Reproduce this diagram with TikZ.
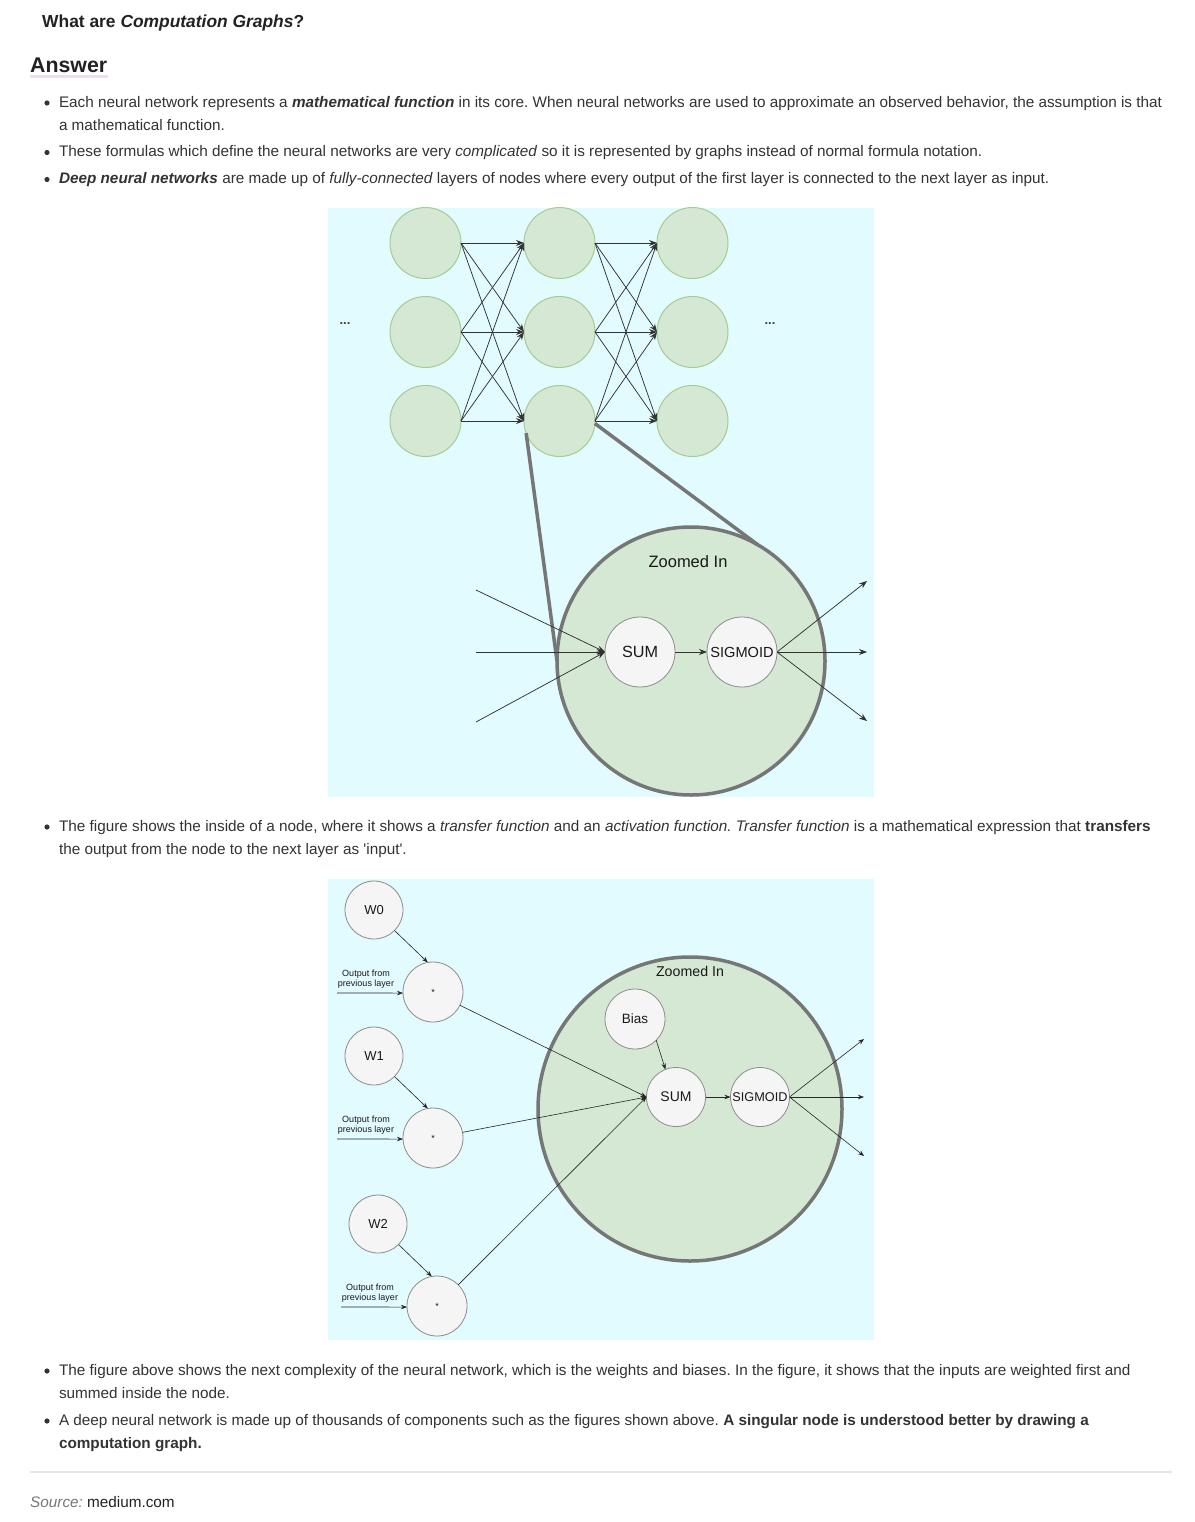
\documentclass[tikz,border=0pt]{standalone}
\usepackage{fontspec}
\setmainfont{Liberation Sans}
\usetikzlibrary{arrows.meta}
\definecolor{bgc}{HTML}{E1FBFE}
\definecolor{gfill}{HTML}{D5E8D4}
\definecolor{gdraw}{HTML}{A6CC94}
\definecolor{wfill}{HTML}{F5F5F5}
\definecolor{wdraw}{HTML}{8C8C8C}
\definecolor{zdraw}{HTML}{767676}
\definecolor{txt}{HTML}{333333}
\definecolor{head}{HTML}{222222}
\definecolor{ulc}{HTML}{EDDDF0}
\definecolor{rulec}{HTML}{E6E6E6}
\definecolor{srcc}{HTML}{777777}
\frenchspacing
\begin{document}
\frenchspacing
\begin{tikzpicture}[x=1pt,y=-1pt,
  body/.style={anchor=base west, inner sep=0, outer sep=0, text=txt, font=\fontsize{15.3}{18}\selectfont},
  bul/.style={fill=txt},
  gnode/.style={circle, fill=gfill, draw=gdraw, line width=1pt, minimum size=71pt, inner sep=0, outer sep=0},
  wnode/.style={circle, fill=wfill, draw=wdraw, line width=0.8pt, inner sep=0, outer sep=0, text=black!90},
  znode/.style={circle, fill=gfill, draw=zdraw, line width=3.5pt, inner sep=0, outer sep=0},
  arr/.style={-{Stealth[length=8pt,width=6pt]}, line width=0.75pt, draw=black!80},
  sarr/.style={-{Stealth[length=6pt,width=4.5pt]}, line width=0.6pt, draw=black!85},
  thick gray/.style={line width=3.5pt, draw=zdraw},
  small/.style={font=\fontsize{9}{10.5}\selectfont, align=center, inner sep=0, text=black!90}
]
% page
\path[fill=white] (0,0) rectangle (1194,1522);

% heading
\node[anchor=base west, inner sep=0, text=head, font=\fontsize{17.4}{20}\selectfont\bfseries] (title) at (42,28) {What are \textit{Computation Graphs}?};
\fill[ulc] (30,75) rectangle (108,78.5);
\node[anchor=base west, inner sep=0, text=head, font=\fontsize{21.3}{25}\selectfont\bfseries] (answer) at (30,73) {Answer};

% bullets top
\fill[bul] (47,103) circle (2.6);
\node[body] (l1) at (59,107.5) {Each neural network represents a \textbf{\textit{mathematical function}} in its core. When neural networks are used to approximate an observed behavior, the assumption is that};
\node[body] (l2) at (59,130.5) {a mathematical function.};
\fill[bul] (47,152.5) circle (2.6);
\node[body] (l3) at (59,157) {These formulas which define the neural networks are very \textit{complicated} so it is represented by graphs instead of normal formula notation.};
\fill[bul] (47,179.5) circle (2.6);
\node[body] (l4) at (59,184) {\textbf{\textit{Deep neural networks}} are made up of \textit{fully-connected} layers of nodes where every output of the first layer is connected to the next layer as input.};

% ---------------- diagram 1 ----------------
\fill[bgc] (328,208) rectangle (874,797);
\foreach \c/\x in {1/425.5,2/559.5,3/692.5}
  \foreach \r/\y in {1/243,2/332,3/421}
    \node[gnode] (n\c\r) at (\x,\y) {};
\foreach \a in {1,2,3}
  \foreach \b in {1,2,3} {
    \draw[arr] (n1\a.east) -- (n2\b.west);
    \draw[arr] (n2\a.east) -- (n3\b.west);
  }
\node[font=\fontsize{13}{14}\selectfont\bfseries, text=black!75] (dl) at (345,324) {...};
\node[font=\fontsize{13}{14}\selectfont\bfseries, text=black!75] (dr) at (770,324) {...};

\node[znode, minimum size=268pt] (big1) at (691,661) {};
\draw[thick gray] (n23.200) -- (big1.180);
\draw[thick gray] (n23.-4) -- (big1.60);
\node[font=\fontsize{16.5}{19}\selectfont, text=black!90] (zl1) at (688,562) {Zoomed In};
\node[wnode, minimum size=70pt, font=\fontsize{16.2}{19}\selectfont] (sum1) at (640,652) {SUM};
\node[wnode, minimum size=70pt, font=\fontsize{14.6}{17}\selectfont] (sig1) at (742,652) {SIGMOID};
\coordinate (i1) at (476,590);
\coordinate (i2) at (476,652);
\coordinate (i3) at (476,722);
\coordinate (o1) at (867,581);
\coordinate (o2) at (867,652);
\coordinate (o3) at (867,721);
\foreach \i in {i1,i2,i3} \draw[arr] (\i) -- (sum1.west);
\draw[arr] (sum1.east) -- (sig1.west);
\foreach \o in {o1,o2,o3} \draw[arr] (sig1.east) -- (\o);

% text middle
\fill[bul] (47,827) circle (2.6);
\node[body] (m1) at (59,831.5) {The figure shows the inside of a node, where it shows a \textit{transfer function} and an \textit{activation function. Transfer function} is a mathematical expression that \textbf{transfers}};
\node[body] (m2) at (59,854.5) {the output from the node to the next layer as {\textquotesingle}input{\textquotesingle}.};

% ---------------- diagram 2 ----------------
\fill[bgc] (328,879) rectangle (874,1340);
\node[znode, minimum size=304pt] (big2) at (690,1109) {};
\node[font=\fontsize{14.2}{17}\selectfont, text=black!90] (zl2) at (690,971) {Zoomed In};
\node[wnode, minimum size=60pt, font=\fontsize{13.5}{16}\selectfont] (bias) at (635,1019) {Bias};
\node[wnode, minimum size=59pt, font=\fontsize{14}{16}\selectfont] (sum2) at (676,1097) {SUM};
\node[wnode, minimum size=59pt, font=\fontsize{12.7}{15}\selectfont] (sig2) at (760,1097) {SIGMOID};

\foreach \k/\wx/\wy/\mx/\my in {0/374/910/433/992, 1/374/1056/433/1138, 2/378/1224/437/1306} {
  \node[wnode, minimum size=58pt, font=\fontsize{13}{15}\selectfont] (w\k) at (\wx,\wy) {W\k};
  \node[wnode, minimum size=60pt, font=\fontsize{9}{10}\selectfont] (p\k) at (\mx,\my) {*};
  \node[small] (t\k) at (\mx-67,\my-13) {Output from\\previous layer};
  \coordinate (s\k) at (\mx-96,\my+1);
  \draw[sarr] (s\k) -- (p\k.182);
  \draw[sarr] (w\k.-45) -- (p\k.100);
  \draw[sarr] (p\k) -- (sum2.west);
}
\draw[sarr] (bias.-45) -- (sum2.111);
\draw[sarr] (sum2.east) -- (sig2.west);
\coordinate (q1) at (864,1039);
\coordinate (q2) at (864,1097);
\coordinate (q3) at (864,1156);
\foreach \q in {q1,q2,q3} \draw[sarr] (sig2.east) -- (\q);

% text bottom
\fill[bul] (47,1371) circle (2.6);
\node[body] (b1) at (59,1375.5) {The figure above shows the next complexity of the neural network, which is the weights and biases. In the figure, it shows that the inputs are weighted first and};
\node[body] (b2) at (59,1398.5) {summed inside the node.};
\fill[bul] (47,1421) circle (2.6);
\node[body] (b3) at (59,1425.5) {A deep neural network is made up of thousands of components such as the figures shown above. \textbf{A singular node is understood better by drawing a}};
\node[body] (b4) at (59,1448.5) {\textbf{computation graph.}};

\draw[rulec, line width=1.5pt] (30,1472) -- (1172,1472);
\node[anchor=base west, inner sep=0, font=\fontsize{15.3}{18}\selectfont] (src) at (30,1507.5) {\textcolor{srcc}{\textit{Source:}} \textcolor{head}{medium.com}};
\end{tikzpicture}
\end{document}
